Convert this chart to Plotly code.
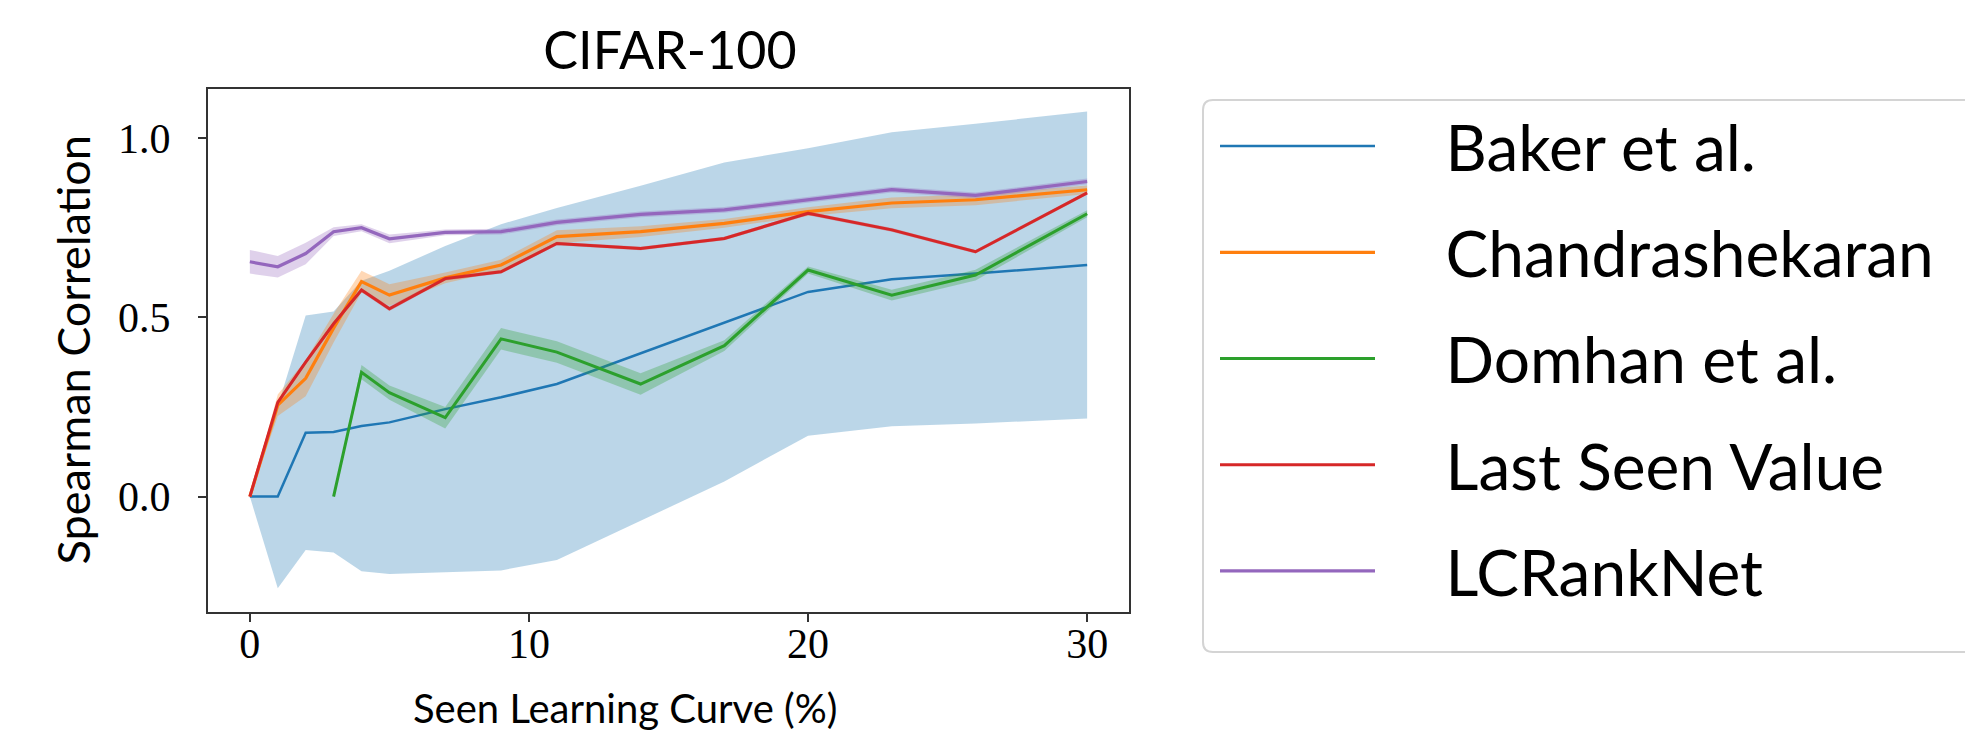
import plotly.graph_objects as go

x_pct = [0, 1, 2, 3, 4, 5, 7, 9, 11, 14, 17, 20, 23, 26, 30]

baker_mean = [0, 0, 0.178, 0.18, 0.197, 0.207, 0.244, 0.277, 0.314, 0.40, 0.487, 0.571, 0.606, 0.622, 0.646]
baker_std = [0, 0.256, 0.327, 0.336, 0.405, 0.423, 0.455, 0.483, 0.491, 0.467, 0.445, 0.401, 0.41, 0.418, 0.428]

chandra_mean = [0, 0.255, 0.33, 0.47, 0.60, 0.562, 0.61, 0.646, 0.725, 0.739, 0.762, 0.795, 0.819, 0.828, 0.856]
chandra_std = [0, 0.03, 0.05, 0.04, 0.03, 0.03, 0.015, 0.015, 0.018, 0.015, 0.012, 0.012, 0.015, 0.015, 0.012]

domhan_mean = [None, None, None, 0, 0.347, 0.29, 0.22, 0.44, 0.403, 0.314, 0.421, 0.632, 0.562, 0.618, 0.789]
domhan_std = [None, None, None, 0, 0.02, 0.02, 0.03, 0.03, 0.03, 0.03, 0.015, 0.01, 0.015, 0.015, 0.01]

last_mean = [0, 0.263, 0.375, 0.482, 0.576, 0.524, 0.608, 0.627, 0.706, 0.692, 0.72, 0.79, 0.744, 0.683, 0.847]
last_std = [0, 0.006, 0.006, 0.006, 0.006, 0.006, 0.005, 0.005, 0.005, 0.005, 0.005, 0.005, 0.005, 0.005, 0.005]

lcrank_mean = [0.655, 0.641, 0.678, 0.739, 0.75, 0.719, 0.737, 0.739, 0.765, 0.787, 0.80, 0.828, 0.856, 0.840, 0.879]
lcrank_std = [0.033, 0.03, 0.03, 0.012, 0.01, 0.012, 0.008, 0.008, 0.008, 0.008, 0.008, 0.008, 0.008, 0.008, 0.008]

series_names = ["Baker et al.", "Chandrashekaran", "Domhan et al.", "Last Seen Value", "LCRankNet"]
series_means = [baker_mean, chandra_mean, domhan_mean, last_mean, lcrank_mean]
series_stds = [baker_std, chandra_std, domhan_std, last_std, lcrank_std]
colors = ["#1f77b4", "#ff7f0e", "#2ca02c", "#d62728", "#9467bd"]
fills = ["rgba(31,119,180,0.3)", "rgba(255,127,14,0.3)", "rgba(44,160,44,0.3)",
         "rgba(214,39,40,0.3)", "rgba(148,103,189,0.3)"]
widths = [2.5, 3.2, 3, 3, 3.2]

SANS = "Lato, 'Open Sans', sans-serif"
SERIF = "'Liberation Serif', 'DejaVu Serif', serif"

# plot-area geometry (px) used to convert to paper coordinates
L, R, T, B = 200, 1121, 81, 604
PW, PH = R - L, B - T


def px_x(px):
    return (px - L) / PW


def px_y(py):
    return (B - py) / PH


fig = go.Figure()
for i, name in enumerate(series_names):
    xs, ms, ss = [], [], []
    for xv, m, s in zip(x_pct, series_means[i], series_stds[i]):
        if m is None:
            continue
        xs.append(xv); ms.append(m); ss.append(s)
    lo = [m - s for m, s in zip(ms, ss)]
    hi = [m + s for m, s in zip(ms, ss)]
    fig.add_trace(go.Scatter(x=xs, y=lo, mode="lines", line=dict(width=0, color=fills[i]),
                             showlegend=False, hoverinfo="skip"))
    fig.add_trace(go.Scatter(x=xs, y=hi, mode="lines", line=dict(width=0, color=fills[i]),
                             fill="tonexty", fillcolor=fills[i], showlegend=False, hoverinfo="skip"))
    fig.add_trace(go.Scatter(x=xs, y=ms, mode="lines", name="\u00a0" * 4 + name, legendgroup=name,
                             line=dict(color=colors[i], width=widths[i])))

# rounded legend frame (matplotlib style)
x0, x1, y0, y1 = px_x(1195), px_x(1967), px_y(644), px_y(92)
rx, ry = 10 / PW, 10 / PH
frame_path = (f"M {x0 + rx},{y1} L {x1 - rx},{y1} Q {x1},{y1} {x1},{y1 - ry} "
              f"L {x1},{y0 + ry} Q {x1},{y0} {x1 - rx},{y0} L {x0 + rx},{y0} "
              f"Q {x0},{y0} {x0},{y0 + ry} L {x0},{y1 - ry} Q {x0},{y1} {x0 + rx},{y1} Z")

fig.update_layout(
    width=1973, height=730,
    margin=dict(l=L, r=1973 - R, t=T, b=730 - B),
    paper_bgcolor="white", plot_bgcolor="white",
    title=dict(text="CIFAR-100", x=662 / 1973, xanchor="center", y=1 - 43 / 730,
               yanchor="middle", font=dict(family=SANS, size=52, color="black")),
    xaxis=dict(range=[-1.5, 31.5], dtick=10, tick0=0, showgrid=False, zeroline=False,
               showline=True, mirror=True, linecolor="#333", linewidth=2,
               ticks="outside", ticklen=8, tickwidth=1.5, tickcolor="#333",
               ticklabelstandoff=-14,
               tickfont=dict(family=SERIF, size=42, color="black")),
    yaxis=dict(range=[-0.322, 1.137], dtick=0.5, tick0=0, tickformat=".1f", showgrid=False,
               zeroline=False, showline=True, mirror=True, linecolor="#333", linewidth=2,
               ticks="outside", ticklen=8, tickwidth=1.5, tickcolor="#333",
               ticklabelstandoff=19,
               tickfont=dict(family=SERIF, size=42, color="black")),
    legend=dict(x=px_x(1207), xanchor="left", y=px_y(90), yanchor="top",
                borderwidth=0, bgcolor="rgba(0,0,0,0)",
                font=dict(family=SANS, size=64, color="black"),
                itemwidth=155, tracegroupgap=20),
    shapes=[dict(type="path", path=frame_path, xref="paper", yref="paper",
                 line=dict(color="#d4d4d4", width=2), fillcolor="white", layer="below")],
    annotations=[
        dict(text="Spearman Correlation", xref="paper", yref="paper",
             x=px_x(64), y=0.5, xanchor="center", yanchor="middle", textangle=-90,
             showarrow=False, font=dict(family=SANS, size=45, color="black")),
        dict(text="Seen Learning Curve (%)", xref="paper", yref="paper",
             x=px_x(617), y=px_y(700), xanchor="center", yanchor="middle",
             showarrow=False, font=dict(family=SANS, size=40, color="black")),
    ],
)

try:
    fig.update_layout(legend_maxheight=700)
except Exception:
    fig.update_layout(legend_tracegroupgap=14)

fig.write_html("out.html")
